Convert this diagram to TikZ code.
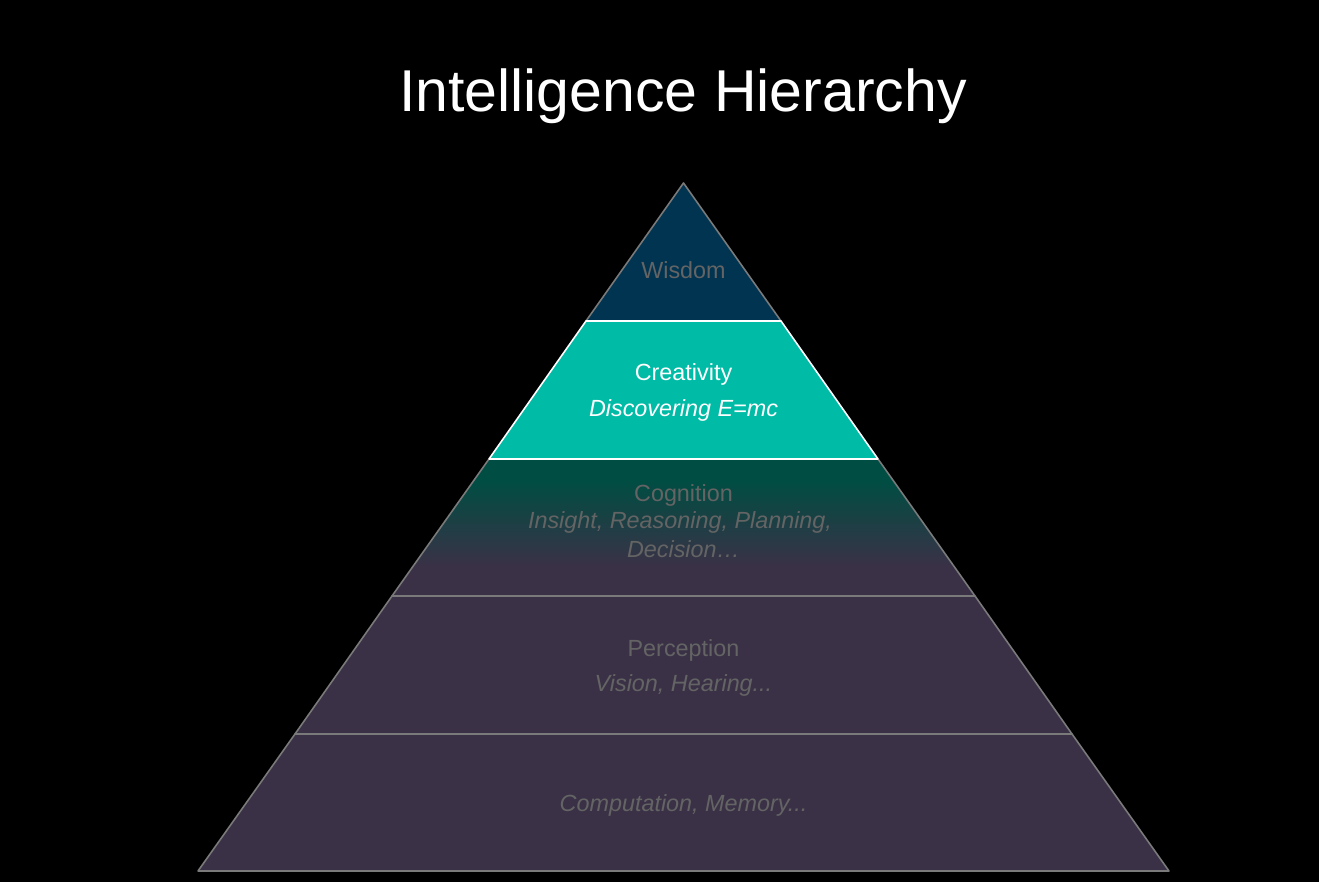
\documentclass[tikz,border=0pt]{standalone}
\usepackage{fontspec}
\setmainfont{Liberation Sans}
\definecolor{bgblack}{HTML}{000000}
\definecolor{wisdomblue}{HTML}{003451}
\definecolor{createal}{HTML}{00BBA6}
\definecolor{cogteal}{HTML}{004D43}
\definecolor{layerpurple}{HTML}{3A3146}
\definecolor{edgegray}{HTML}{7A7A7A}
\definecolor{labelgray}{HTML}{646464}
\pgfdeclareverticalshading{cogshade}{100bp}{color(0bp)=(layerpurple); color(36bp)=(layerpurple); color(67bp)=(cogteal); color(100bp)=(cogteal)}
\tikzset{
  layeredge/.style={draw=edgegray, line width=0.9pt, line join=round},
  toplabel/.style={font=\fontsize{13.3pt}{15pt}\selectfont, text=labelgray, anchor=base, inner sep=0pt},
  sublabel/.style={font=\fontsize{13.3pt}{15pt}\selectfont\itshape, text=labelgray, anchor=base, inner sep=0pt},
}
\begin{document}
\begin{tikzpicture}[x=0.02cm, y=-0.02cm]
\useasboundingbox (0,0) rectangle (1319,882);
\fill[bgblack] (0,0) rectangle (1319,882);
% title
\node[font=\fontsize{33.6pt}{40pt}\selectfont, text=white, anchor=base, inner sep=0pt] (title) at (683,112) {Intelligence Hierarchy};
% layers
\coordinate (apex) at (683.5,183);
\path[layeredge, fill=layerpurple] (295,734) -- (1072,734) -- (1169,871) -- (198,871) -- cycle;
\path[layeredge, fill=layerpurple] (392,596) -- (975,596) -- (1072,734) -- (295,734) -- cycle;
\path[layeredge, shading=cogshade] (489,459) -- (878,459) -- (975,596) -- (392,596) -- cycle;
\path[layeredge, fill=wisdomblue] (apex) -- (781,321) -- (586,321) -- cycle;
\path[draw=white, line width=0.9pt, line join=round, fill=createal] (586,321) -- (781,321) -- (878,459) -- (489,459) -- cycle;
% labels
\node[toplabel] (wisdom) at (683.5,278) {Wisdom};
\node[toplabel, text=white] (creativity) at (683.5,380.5) {Creativity};
\node[sublabel, text=white] (creativitysub) at (683.5,416.5) {Discovering E=mc};
\node[toplabel] (cognition) at (683.5,501) {Cognition};
\node[sublabel] (cognitionsub1) at (680,528) {Insight, Reasoning, Planning,};
\node[sublabel] (cognitionsub2) at (683.5,557) {Decision…};
\node[toplabel] (perception) at (683.5,656) {Perception};
\node[sublabel] (perceptionsub) at (683.5,691) {Vision, Hearing...};
\node[sublabel] (computation) at (683.5,811) {Computation, Memory...};
\end{tikzpicture}
\end{document}
